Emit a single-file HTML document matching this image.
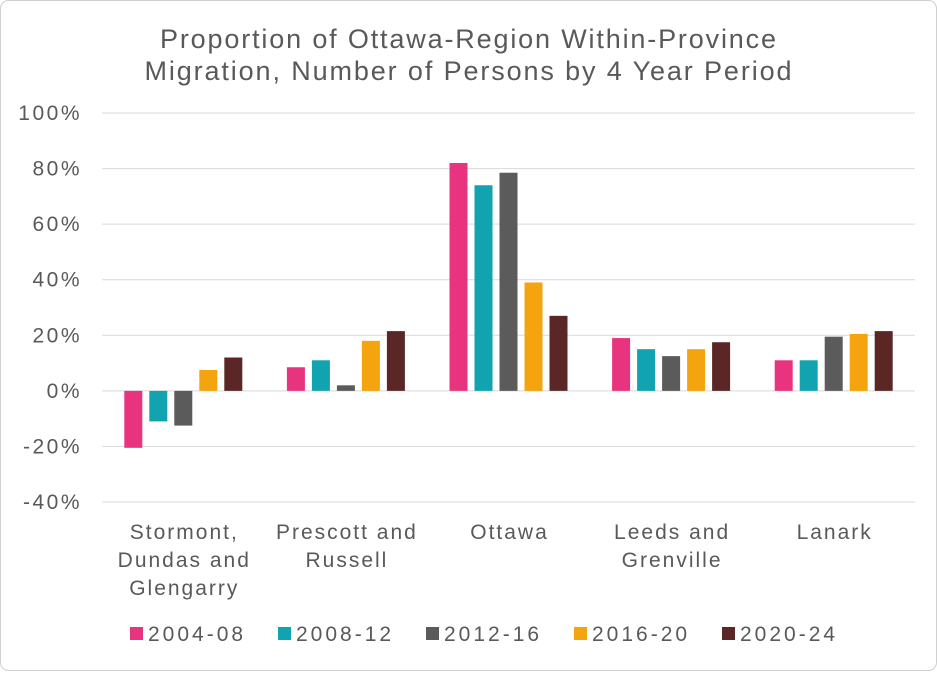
<!DOCTYPE html>
<html><head><meta charset="utf-8"><style>
body{margin:0;background:#fff;font-family:"Liberation Sans",sans-serif;}
#wrap{position:relative;width:937px;height:671px;}
</style></head><body>
<div id="wrap">
<svg id="svg" width="937" height="671"></svg>
</div>
<script>
const categories=[["Stormont,","Dundas and","Glengarry"],["Prescott and","Russell"],["Ottawa"],["Leeds and","Grenville"],["Lanark"]];
const seriesNames=["2004-08","2008-12","2012-16","2016-20","2020-24"];
const s0408=[-20.5,8.5,82,19,11];
const s0812=[-11,11,74,15,11];
const s1216=[-12.5,2,78.5,12.5,19.5];
const s1620=[7.5,18,39,15,20.5];
const s2024=[12,21.5,27,17.5,21.5];
const yTicks=[100,80,60,40,20,0,-20,-40];
const colors=["#e8347e","#12a3b0","#5b5b5b","#f4a40f","#5a2626"];
const series=[s0408,s0812,s1216,s1620,s2024];
const NS="http://www.w3.org/2000/svg";
const svg=document.getElementById('svg');
function mk(t,a,txt){const e=document.createElementNS(NS,t);for(const k in a)e.setAttribute(k,a[k]);if(txt!==undefined)e.textContent=txt;svg.appendChild(e);return e;}
const x0=102,x1=915,yTop=113,yBot=502;
function y(v){return yBot-(v+40)/140*(yBot-yTop);}
function cx(i){return x0+(x1-x0)/5*(i+0.5);}
let b=mk('rect',{x:0.5,y:0.5,width:936,height:670,rx:8,fill:'#fff',stroke:'#d0d0d0'});


const titleLens=[616,647];
["Proportion of Ottawa-Region Within-Province","Migration, Number of Persons by 4 Year Period"].forEach((l,i)=>{
 const t=mk('text',{x:468,y:48+i*32,'text-anchor':'middle','font-size':27,fill:'#595959',textLength:titleLens[i],lengthAdjust:'spacing'},l);
 
 
});
yTicks.forEach(v=>{
 const g=mk('line',{x1:x0,x2:x1,y1:y(v),y2:y(v),stroke:'#d9d9d9','stroke-width':1});
 
 
 const t=mk('text',{x:82,y:y(v)+7,'text-anchor':'end','font-size':21,'letter-spacing':'2.5px',fill:'#595959'},v+'%');
 
 
});
const pitch=25,bw=18;
series.forEach((s,si)=>{
 s.forEach((v,ci)=>{
  const bx=cx(ci)+(si-2)*pitch-bw/2;
  const r=mk('rect',{x:bx,y:Math.min(y(v),y(0)),width:bw,height:Math.abs(y(v)-y(0)),fill:colors[si]});
  
  
 });
});
categories.forEach((c,i)=>{
 c.forEach((l,j)=>{
  const t=mk('text',{x:cx(i)+1,y:539+j*28,'text-anchor':'middle','font-size':21,'letter-spacing':'2px',fill:'#595959'},l);
  
  
 });
});
const lx=[130,278,426,574,722];
seriesNames.forEach((n,i)=>{
 const r=mk('rect',{x:lx[i],y:627,width:13,height:13,fill:colors[i]});
 
 
 const t=mk('text',{x:lx[i]+18,y:641,'font-size':21,'letter-spacing':'3px',fill:'#595959'},n);
 
 
});
</script>
</body></html>
